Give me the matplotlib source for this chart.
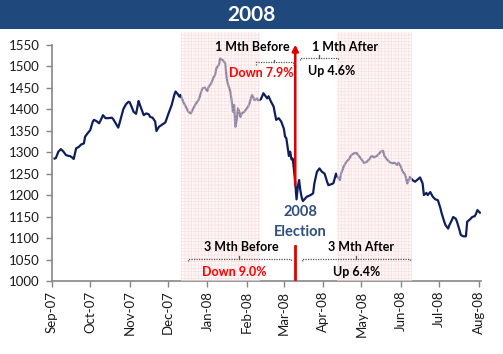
import matplotlib
matplotlib.use("Agg")
import matplotlib.pyplot as plt
import matplotlib.dates as mdates
from matplotlib.patches import Rectangle
import pandas as pd

plt.rcParams['font.family'] = ['Lato', 'DejaVu Sans']
plt.rcParams['hatch.linewidth'] = 0.45

# index level (days counted from 1 Sep 2007)
start = pd.Timestamp('2007-09-01')
day = [2, 3, 5, 7, 9, 11, 13, 14, 16, 17, 19, 21, 23, 25, 26, 28,
       30, 32, 33, 35, 37, 39, 40, 42, 44, 47, 48, 50, 52, 53, 56, 58, 60,
       61, 63, 64, 66, 68, 69, 72, 74, 76, 77, 79, 81, 82, 84, 87, 89,
       91, 94, 96, 97, 99, 100, 101, 103, 105, 107, 109, 111, 113, 115, 116, 118, 120,
       122, 123, 125, 127, 128, 129, 131, 132, 134, 136, 137, 138, 140, 141, 142, 143,
       144, 145, 146, 147, 148, 149, 151,
       154, 155, 157, 159, 161, 162, 164, 166, 168, 169, 170, 172, 174, 176, 178, 180,
       182, 183, 184, 185, 186, 187, 188, 189, 190, 191, 192, 193, 194, 195, 196, 197,
       200, 203, 205, 206, 208, 210, 212,
       214, 216, 217, 220, 221, 223, 224, 226, 227, 229, 231, 233, 235, 237, 239, 241,
       243, 245, 247, 249, 251, 253, 255, 257, 258, 260, 261, 263, 265, 267, 269, 271, 272,
       274, 275, 277, 278, 279, 280, 281, 283, 285, 287, 289, 291, 292, 294, 295, 297,
       299, 301, 303,
       305, 306, 308, 309, 311, 312, 314, 315, 317, 318, 320, 321, 323, 325, 326, 328,
       330, 332, 333, 334, 336]
close = [1285, 1286, 1301, 1307, 1301, 1293, 1291, 1291, 1287, 1284, 1309, 1312, 1318, 1320, 1336, 1344,
         1351, 1371, 1375, 1372, 1367, 1379, 1386, 1379, 1379, 1380, 1377, 1367, 1357, 1367, 1400, 1411, 1417,
         1416, 1402, 1394, 1389, 1419, 1410, 1386, 1390, 1388, 1382, 1380, 1371, 1349, 1359, 1365, 1369,
         1386, 1410, 1433, 1441, 1434, 1429, 1433, 1417, 1406, 1394, 1390, 1402, 1413, 1421, 1429, 1448, 1450,
         1442, 1452, 1460, 1475, 1479, 1495, 1503, 1518, 1514, 1507, 1475, 1460, 1441, 1421, 1394, 1410,
         1359, 1375, 1402, 1394, 1382, 1390, 1394,
         1406, 1413, 1433, 1421, 1425, 1420, 1423, 1437, 1429, 1425, 1430, 1417, 1406, 1375, 1379, 1371,
         1355, 1336, 1332, 1312, 1291, 1301, 1283, 1285, 1258, 1227, 1190, 1219, 1235, 1211, 1195, 1186,
         1196, 1200, 1204, 1227, 1254, 1262, 1254,
         1250, 1231, 1223, 1226, 1228, 1250, 1243, 1235, 1250, 1266, 1277, 1283, 1293, 1297, 1298, 1291,
         1283, 1275, 1277, 1283, 1291, 1288, 1291, 1297, 1301, 1303, 1291, 1283, 1277, 1274, 1275, 1270, 1275,
         1266, 1256, 1249, 1239, 1227, 1235, 1242, 1235, 1231, 1236, 1241, 1227, 1200, 1205, 1200, 1207,
         1196, 1190, 1188,
         1169, 1157, 1138, 1130, 1122, 1130, 1142, 1149, 1145, 1138, 1118, 1107, 1104, 1104, 1138, 1143,
         1149, 1151, 1157, 1165, 1159]

election = pd.Timestamp('2008-03-10')
shade_periods = [('2007-12-11', '2008-02-11'), ('2008-04-12', '2008-06-10')]
yticks = list(range(1000, 1551, 50))

dates = start + pd.to_timedelta(day, unit='D')


def d(n):
    return start + pd.Timedelta(days=n)


fig = plt.figure(figsize=(5.03, 3.54), dpi=100)
ax = fig.add_axes([0.1034, 0.2062, 0.852, 0.704])

# title banner
fig.patches.append(Rectangle((0, 0.918), 1, 0.082, transform=fig.transFigure,
                             facecolor='#1f497d', edgecolor='none', zorder=0))
fig.text(0.5, 0.958, '2008', color='white', fontsize=15, fontweight='bold',
         ha='center', va='center')

ax.plot(dates, close, color='#0f1f5c', lw=1.6, zorder=2)

# shaded windows sit on top of the line, like the original
for a, b in shade_periods:
    ax.axvspan(pd.Timestamp(a), pd.Timestamp(b), facecolor=(1, 0.95, 0.95, 0.5),
               edgecolor=(0.95, 0.72, 0.72, 0.4), hatch='+++++', lw=0, zorder=3)

ax.set_xlim(start, d(336.5))
ax.set_ylim(1000, 1580)
ax.set_yticks(yticks)
ax.xaxis.set_major_locator(mdates.MonthLocator())
ax.xaxis.set_major_formatter(mdates.DateFormatter('%b-%y'))
ax.tick_params(axis='x', labelrotation=90, length=4, width=1, color='#868686',
               labelsize=9.5, labelcolor='#1a1a1a', pad=3)
ax.tick_params(axis='y', length=4, width=1, color='#868686',
               labelsize=9.5, labelcolor='#1a1a1a', pad=5)
for s in ['top', 'right']:
    ax.spines[s].set_visible(False)
for s in ['left', 'bottom']:
    ax.spines[s].set_color('#868686')
    ax.spines[s].set_linewidth(1.2)
ax.spines['left'].set_bounds(1000, 1550)

# election marker
ax.annotate('', xy=(election, 1550), xytext=(election, 1223),
            arrowprops=dict(arrowstyle='-|>', color='#e00000', lw=1.8,
                            mutation_scale=9, shrinkA=0, shrinkB=0), zorder=5)
ax.plot([election, election], [1004, 1081], color='#e00000', lw=2, zorder=5)
ax.text(d(194.7), 1161, '2008', color='#2f4f7f', fontsize=10.5, fontweight='bold',
        ha='center', va='center', zorder=6)
ax.text(d(194.7), 1113, 'Election', color='#2f4f7f', fontsize=10.5, fontweight='bold',
        ha='center', va='center', zorder=6)


def brace(x0, x1, y, h=6):
    xm = x0 + (x1 - x0) / 2
    kw = dict(color='#555555', lw=0.9, ls=(0, (1, 1)), zorder=6, solid_capstyle='butt')
    ax.plot([d(x0), d(x0), d(x1), d(x1)], [y - h, y, y, y - h], **kw)
    ax.plot([d(xm), d(xm)], [y, y + h], color='#555555', lw=0.9, zorder=6)


lbl = dict(fontsize=9, fontweight='bold', ha='center', va='center', zorder=7)
ax.text(d(157), 1545, '1 Mth Before', color='black', **lbl)
brace(160.2, 189, 1509)
ax.text(d(164.6), 1485, 'Down 7.9%', color='#ff0000', **lbl)

ax.text(d(229.8), 1545, '1 Mth After', color='black', **lbl)
brace(194.7, 224.8, 1520)
ax.text(d(219.6), 1489, 'Up 4.6%', color='black', **lbl)

ax.text(d(148.6), 1079, '3 Mth Before', color='black', **lbl)
brace(107, 187.4, 1052)
ax.text(d(143), 1020, 'Down 9.0%', color='#ff0000', **lbl)

ax.text(d(242.8), 1079, '3 Mth After', color='black', **lbl)
brace(196.5, 281, 1052)
ax.text(d(238.9), 1020, 'Up 6.4%', color='black', **lbl)

fig.savefig('out.png', dpi=100)
